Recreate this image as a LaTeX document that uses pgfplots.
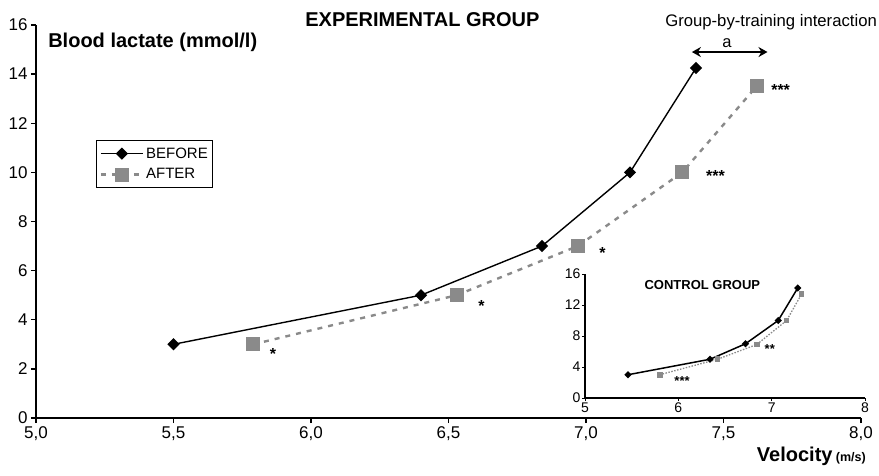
\documentclass[border=0pt]{standalone}
\usepackage{pgfplots}
\pgfplotsset{compat=1.18}
\usepackage{fontspec}
\setmainfont{Liberation Sans}
\usetikzlibrary{arrows.meta}

\definecolor{aftergray}{RGB}{138,138,138}
\tikzset{star/.style={inner sep=0pt, font=\bfseries\fontsize{16}{17}\selectfont, yshift=-3.5pt}}

% main curves: velocity (m/s) vs blood lactate (mmol/l)
\pgfplotstableread{
v    la
5.50 3.0
6.40 5.0
6.84 7.0
7.16 10.0
7.40 14.25
}\expbefore
\pgfplotstableread{
v    la
5.79 3.0
6.53 5.0
6.97 7.0
7.35 10.0
7.62 13.5
}\expafter
% inset (control group)
\pgfplotstableread{
v    la
5.46 3.0
6.34 5.0
6.72 7.0
7.07 10.0
7.28 14.2
}\ctlbefore
\pgfplotstableread{
v    la
5.80 3.0
6.42 5.0
6.84 6.9
7.16 10.0
7.32 13.4
}\ctlafter

\begin{document}
\begin{tikzpicture}
\useasboundingbox (0,0) rectangle (879pt,475pt);
\begin{axis}[
  at={(36pt,57pt)}, anchor=south west,
  scale only axis, width=825pt, height=393pt,
  xmin=5, xmax=8, ymin=0, ymax=16,
  axis lines*=left,
  axis line style={line width=1.6pt, black},
  xtick={5,5.5,6,6.5,7,7.5,8}, ytick={0,2,4,6,8,10,12,14,16},
  tick align=outside, major tick length=5pt,
  tick style={line width=1.3pt, black},
  /pgf/number format/assume math mode=true,
  x tick label style={/pgf/number format/.cd, fixed, fixed zerofill, precision=1, use comma},
  tick label style={font=\fontsize{17}{18}\selectfont},
  clip=false,
  legend style={at={(rel axis cs:0.073,0.707)}, anchor=north west,
    draw=black, line width=1pt, font=\fontsize{15}{17}\selectfont,
    inner xsep=3pt, inner ysep=5pt, row sep=5pt, cells={anchor=west}},
  legend image code/.code={\draw[mark repeat=2, mark phase=2]
    plot coordinates {(0pt,0pt) (21pt,0pt) (42pt,0pt)};},
]
\addplot[black, line width=1.4pt, mark=square*, mark size=3.6pt,
  mark options={rotate=45, solid}] table[x=v, y=la] {\expbefore};
\addlegendentry{BEFORE}
\addplot[aftergray, line width=2.4pt, dash pattern=on 5pt off 6pt,
  mark=square*, mark size=5.8pt, mark options={solid}] table[x=v, y=la] {\expafter};
\addlegendentry{AFTER}

\node[star] at (axis cs:5.862,2.75) {*};
\node[star] at (axis cs:6.62,4.72) {*};
\node[star] at (axis cs:7.06,6.84) {*};
\node[star, anchor=west] at (axis cs:7.436,10.0) {***};
\node[star, anchor=west] at (axis cs:7.673,13.5) {***};

\draw[{Stealth[length=9pt,width=10pt]}-{Stealth[length=9pt,width=10pt]}, line width=2.4pt]
  (axis cs:7.385,14.9) -- (axis cs:7.66,14.9);
\node[anchor=base, font=\fontsize{16.5}{18}\selectfont] at (axis cs:7.513,15.1) {a};
\node[anchor=base, font=\fontsize{16.7}{18}\selectfont] at (axis cs:7.673,15.92) {Group-by-training interaction};

\node[anchor=base, font=\bfseries\fontsize{20}{22}\selectfont] at (axis cs:6.405,15.92) {EXPERIMENTAL GROUP};
\node[anchor=base west, inner sep=0pt, font=\bfseries\fontsize{20}{22}\selectfont] at (axis cs:5.044,15.1) {Blood lactate (mmol/l)};
\node[anchor=base east, inner sep=0pt, font=\bfseries\fontsize{20}{22}\selectfont] at (axis cs:8.018,-1.79)
  {Velocity\,{\fontsize{12.5}{14}\selectfont(m/s)}};
\end{axis}

\begin{axis}[
  at={(585pt,77pt)}, anchor=south west,
  scale only axis, width=280pt, height=124pt,
  xmin=5, xmax=8, ymin=0, ymax=16,
  axis lines*=left,
  axis line style={line width=1.3pt, black},
  xtick={5,6,7,8}, ytick={0,4,8,12,16},
  tick align=outside, major tick length=3pt,
  tick style={line width=1pt, black},
  /pgf/number format/assume math mode=true,
  tick label style={font=\fontsize{14}{15}\selectfont},
  xticklabel style={yshift=2pt},
  yticklabel style={xshift=2pt},
  clip=false,
]
\addplot[black, line width=1.5pt, mark=square*, mark size=1.8pt,
  mark options={rotate=45, solid}] table[x=v, y=la] {\ctlbefore};
\addplot[aftergray, line width=1.3pt, dash pattern=on 1.5pt off 1.5pt,
  mark=square*, mark size=2.2pt, mark options={solid}] table[x=v, y=la] {\ctlafter};
\node[inner sep=0pt, font=\bfseries\fontsize{13}{14}\selectfont, yshift=-2.5pt] at (axis cs:6.04,2.5) {***};
\node[inner sep=0pt, font=\bfseries\fontsize{13}{14}\selectfont, yshift=-2.5pt] at (axis cs:6.98,6.6) {**};
\node[anchor=base, font=\bfseries\fontsize{13}{14}\selectfont] at (axis cs:6.257,14.06) {CONTROL GROUP};
\end{axis}
\end{tikzpicture}
\end{document}
